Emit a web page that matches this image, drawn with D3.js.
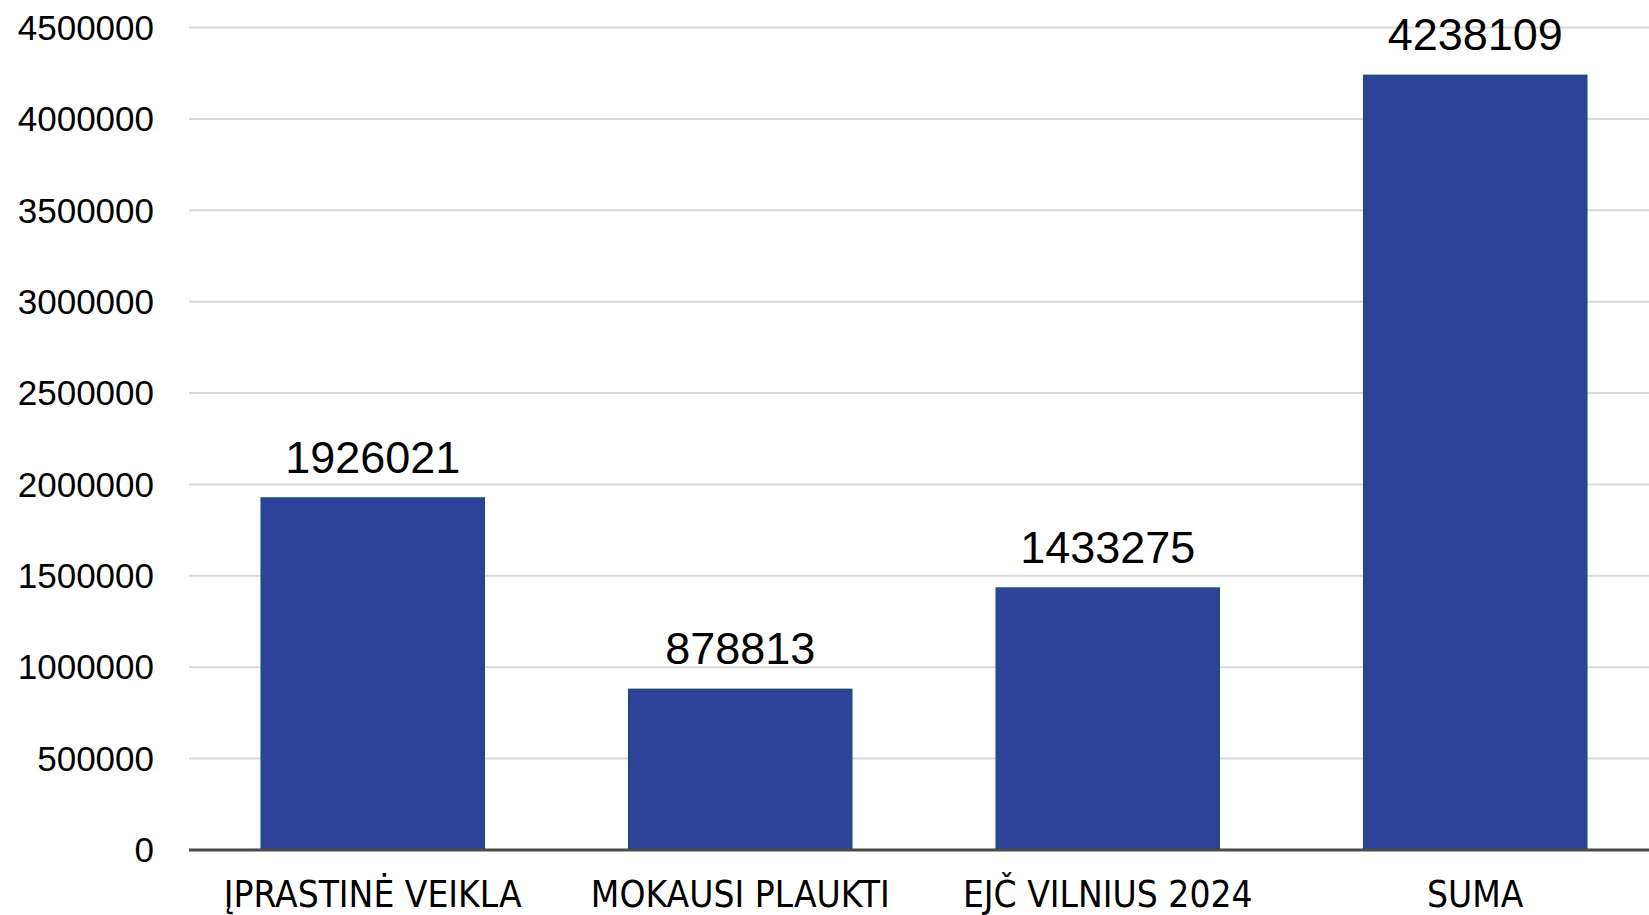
<html>
<head>
    <meta charset="utf-8">
    <script src="https://d3js.org/d3.v7.min.js"></script>
    <style>
        body { margin: 0; background: #fff; }
        .tick-y { font-family: "Liberation Sans", Arial, sans-serif; font-size: 35px; fill: #000; }
        .cat { font-family: "Liberation Sans Narrow", "DejaVu Sans Condensed", sans-serif; font-size: 36.8px; fill: #000; }
        .val { font-family: "Liberation Sans", Arial, sans-serif; font-size: 45px; fill: #000; }
    </style>
</head>
<body>
    <svg id="chart" width="1649" height="915"></svg>
    <script>
        var categories = ["ĮPRASTINĖ VEIKLA", "MOKAUSI PLAUKTI", "EJČ VILNIUS 2024", "SUMA"];
        var values = [1926021, 878813, 1433275, 4238109];
        var yTicks = [0, 500000, 1000000, 1500000, 2000000, 2500000, 3000000, 3500000, 4000000, 4500000];

        var svg = d3.select("#chart");

        var x = d3.scaleBand()
            .domain(categories)
            .range([189, 1659])
            .paddingInner(0.393)
            .paddingOuter(0.1965);

        var y = d3.scaleLinear().domain([0, 4500000]).range([850, 27.5]);

        // gridlines
        svg.append("g").selectAll("line")
            .data(yTicks.filter(function(d) { return d > 0; }))
            .enter().append("line")
            .attr("x1", 189).attr("x2", 1649)
            .attr("y1", function(d) { return y(d); })
            .attr("y2", function(d) { return y(d); })
            .attr("stroke", "#d9d9d9")
            .attr("stroke-width", 2);

        // y labels
        svg.append("g").selectAll("text")
            .data(yTicks)
            .enter().append("text")
            .attr("class", "tick-y")
            .attr("x", 154)
            .attr("y", function(d) { return y(d); })
            .attr("dy", "0.35em")
            .attr("text-anchor", "end")
            .text(function(d) { return d; });

        // bars
        svg.append("g").selectAll("rect")
            .data(values)
            .enter().append("rect")
            .attr("x", function(d, i) { return x(categories[i]); })
            .attr("width", x.bandwidth())
            .attr("y", function(d) { return y(d); })
            .attr("height", function(d) { return y(0) - y(d); })
            .attr("fill", "#2c4399")
            .attr("stroke", "#1f4e6e")
            .attr("stroke-width", 1.5);

        // axis line
        svg.append("line")
            .attr("x1", 189).attr("x2", 1649)
            .attr("y1", y(0)).attr("y2", y(0))
            .attr("stroke", "#4a4a4a")
            .attr("stroke-width", 3);

        // value labels
        svg.append("g").selectAll("text")
            .data(values)
            .enter().append("text")
            .attr("class", "val")
            .attr("x", function(d, i) { return x(categories[i]) + x.bandwidth() / 2; })
            .attr("y", function(d) { return y(d) - 25; })
            .attr("text-anchor", "middle")
            .text(function(d) { return d; });

        // category labels
        svg.append("g").selectAll("text")
            .data(categories)
            .enter().append("text")
            .attr("class", "cat")
            .attr("x", function(d) { return x(d) + x.bandwidth() / 2; })
            .attr("y", 907)
            .attr("text-anchor", "middle")
            .text(function(d) { return d; });
    </script>
</body>
</html>
